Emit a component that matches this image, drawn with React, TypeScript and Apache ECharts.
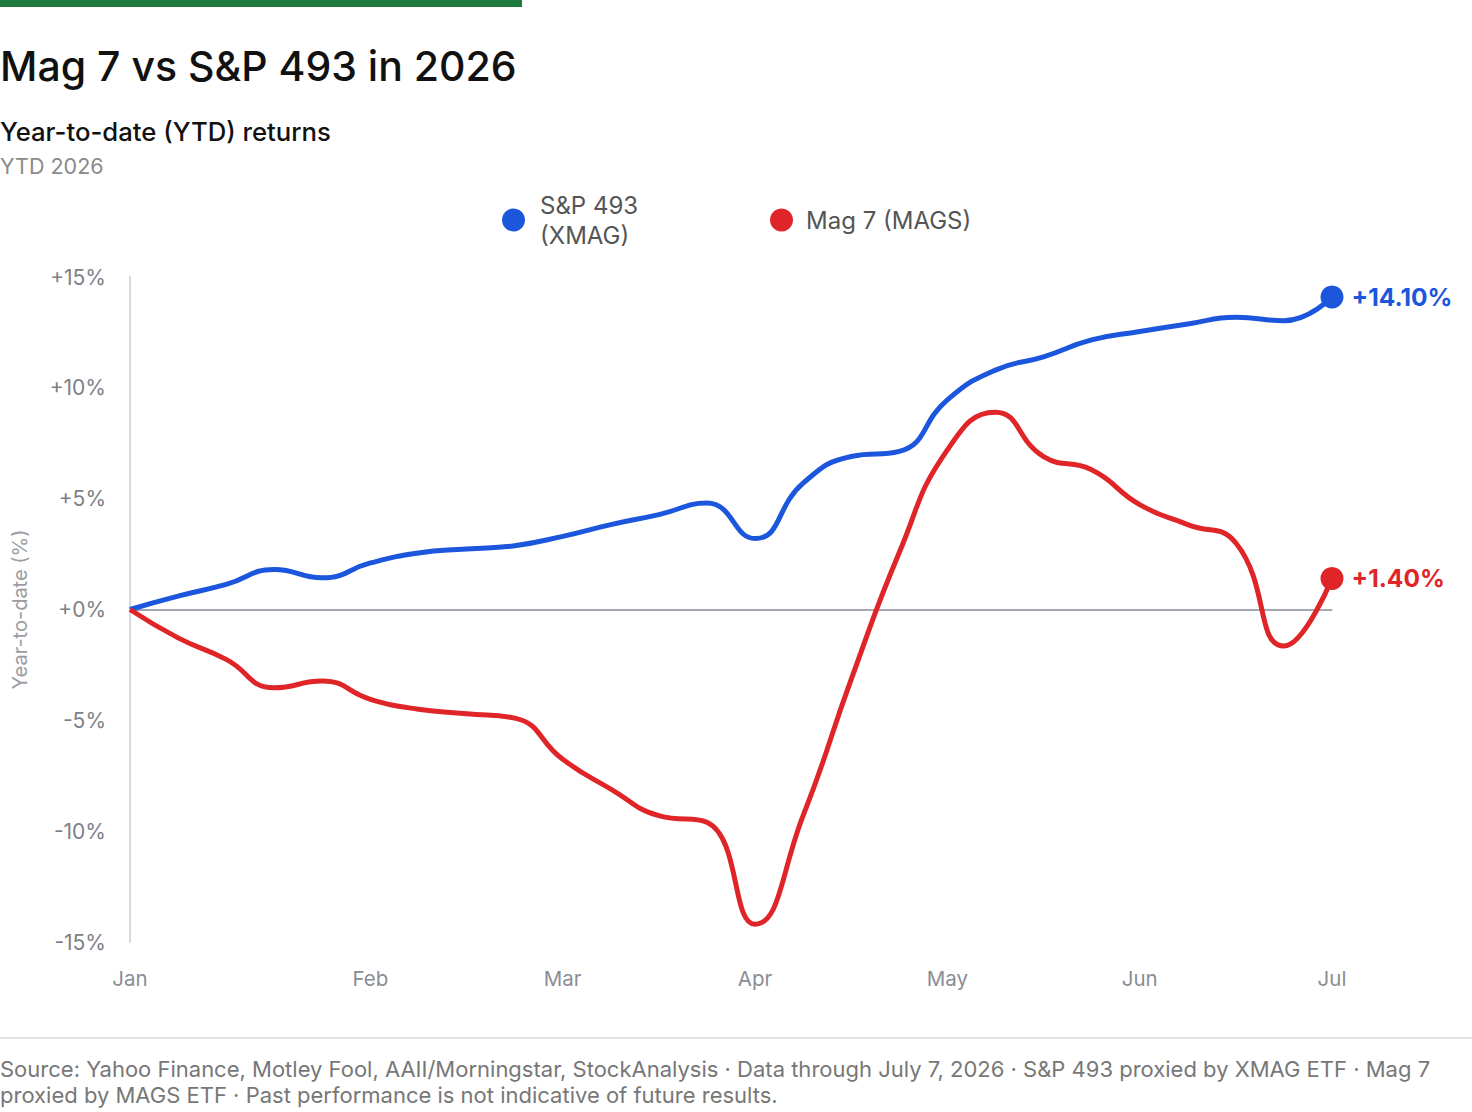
import { useEffect, useRef } from 'react';
import * as echarts from 'echarts';

// one point per week, Jan -> Jul 7
const weeks = [
  'W1', 'W2', 'W3', 'W4', 'W5', 'W6', 'W7', 'W8', 'W9', 'W10', 'W11', 'W12', 'W13',
  'W14', 'W15', 'W16', 'W17', 'W18', 'W19', 'W20', 'W21', 'W22', 'W23', 'W24', 'W25', 'W26',
];
// which week carries which month label
const monthTickIndex = [0, 5, 9, 13, 17, 21, 25];
const monthTickLabel = ['Jan', 'Feb', 'Mar', 'Apr', 'May', 'Jun', 'Jul'];

const xmag = [
  0, 0.6, 1.13, 1.8, 1.43, 2.1, 2.55, 2.73, 2.88, 3.3, 3.83, 4.28, 4.8,
  3.2, 5.7, 6.9, 7.13, 9.46, 10.8, 11.4, 12.16, 12.54, 12.88, 13.18, 13.03, 14.1,
];
const mags = [
  0, -1.28, -2.25, -3.53, -3.23, -4.05, -4.5, -4.7, -4.9, -6.76, -8.1, -9.3, -9.6,
  -14.2, -9.3, -3.15, 2.57, 7.2, 8.9, 6.9, 6.3, 4.73, 3.83, 3.0, -1.65, 1.4,
];

const BLUE = '#1c56dc';
const RED = '#e02528';
const FONT = 'Inter, "Noto Sans", sans-serif';

function withEndPoint(values: number[], color: string) {
  return values.map((v, i) =>
    i === values.length - 1
      ? {
          value: v,
          symbol: 'circle',
          symbolSize: 23,
          itemStyle: { color, borderWidth: 0 },
          label: {
            show: true,
            position: 'right',
            distance: 8,
            formatter: () => (v >= 0 ? '+' : '') + v.toFixed(2) + '%',
            color,
            fontFamily: FONT,
            fontSize: 24.5,
            fontWeight: 'bold',
          },
        }
      : v
  );
}

export default function App() {
  const chartRef = useRef<HTMLDivElement>(null);

  useEffect(() => {
    if (!chartRef.current) return;
    const chart = echarts.init(chartRef.current, null, { renderer: 'svg' });

    const legendText = { fontSize: 24, color: '#555555', lineHeight: 30, fontFamily: FONT };

    chart.setOption({
      animation: false,
      backgroundColor: '#ffffff',
      textStyle: { fontFamily: FONT },
      title: [
        {
          text: 'Mag 7 vs S&P 493 in 2026',
          left: 0,
          top: 45,
          padding: 0,
          textStyle: { fontSize: 41, fontWeight: 500, color: '#111111', fontFamily: FONT },
        },
        {
          text: 'Year-to-date (YTD) returns',
          left: 0,
          top: 118,
          padding: 0,
          textStyle: { fontSize: 25.7, fontWeight: 500, color: '#111111', fontFamily: FONT },
        },
        {
          text: 'YTD 2026',
          left: 0,
          top: 155,
          padding: 0,
          textStyle: { fontSize: 21.5, fontWeight: 400, color: '#8a8a8a', fontFamily: FONT },
        },
      ],
      legend: [
        {
          data: ['S&P 493 (XMAG)'],
          formatter: (name: string) => name.replace(' (', '\n('),
          left: 502,
          top: 190,
          padding: 0,
          icon: 'circle',
          itemWidth: 23,
          itemHeight: 23,
          textStyle: { ...legendText, padding: [0, 0, 0, 10] },
        },
        {
          data: ['Mag 7 (MAGS)'],
          left: 770,
          top: 205,
          padding: 0,
          icon: 'circle',
          itemWidth: 23,
          itemHeight: 23,
          textStyle: { ...legendText, padding: [0, 0, 0, 8] },
        },
      ],
      grid: {
        left: 130,
        right: 140,
        top: 277,
        bottom: 170,
        containLabel: false,
        outerBoundsMode: 'none',
      },
      xAxis: {
        type: 'category',
        data: weeks,
        boundaryGap: false,
        axisLine: { lineStyle: { color: '#d6d9e0', width: 2 } },
        axisTick: { show: false },
        axisLabel: {
          interval: (idx: number) => monthTickIndex.includes(idx),
          formatter: (_v: string, idx: number) => monthTickLabel[monthTickIndex.indexOf(idx)] ?? '',
          color: '#8a8d94',
          fontSize: 20.5,
          margin: 26,
        },
        splitLine: { show: false },
      },
      yAxis: {
        type: 'value',
        min: -15,
        max: 15,
        interval: 5,
        name: 'Year-to-date (%)',
        nameLocation: 'middle',
        nameGap: 100,
        nameRotate: 90,
        nameTextStyle: { color: '#9a9da3', fontSize: 20 },
        axisLine: { show: true, lineStyle: { color: '#d6d9e0', width: 2 } },
        axisTick: { show: false },
        splitLine: { show: false },
        axisLabel: {
          formatter: (v: number) => (v >= 0 ? '+' : '') + v + '%',
          color: '#7d8087',
          fontSize: 21,
          margin: 24,
        },
      },
      series: [
        {
          name: 'S&P 493 (XMAG)',
          type: 'line',
          data: withEndPoint(xmag, BLUE),
          smooth: true,
          symbol: 'none',
          showSymbol: true,
          color: BLUE,
          lineStyle: { width: 5, color: BLUE },
          z: 3,
          markLine: {
            silent: true,
            symbol: 'none',
            label: { show: false },
            lineStyle: { color: '#a3a8b2', width: 2, type: 'solid' },
            data: [{ yAxis: 0 }],
            z: 1,
          },
        },
        {
          name: 'Mag 7 (MAGS)',
          type: 'line',
          data: withEndPoint(mags, RED),
          smooth: true,
          symbol: 'none',
          showSymbol: true,
          color: RED,
          lineStyle: { width: 5, color: RED },
          z: 3,
        },
      ],
      graphic: [
        {
          type: 'rect',
          left: 0,
          top: 0,
          shape: { width: 522, height: 7 },
          style: { fill: '#1d7a3c' },
        },
        {
          type: 'line',
          shape: { x1: 0, y1: 1038, x2: 1472, y2: 1038 },
          style: { stroke: '#e3e3e3', lineWidth: 2 },
        },
        {
          type: 'text',
          left: 0,
          top: 1056,
          style: {
            text:
              'Source: Yahoo Finance, Motley Fool, AAII/Morningstar, StockAnalysis · Data through July 7, 2026 · S&P 493 proxied by XMAG ETF · Mag 7\nproxied by MAGS ETF · Past performance is not indicative of future results.',
            fill: '#777777',
            fontSize: 22,
            lineHeight: 26,
            fontFamily: FONT,
          },
        },
      ],
    });

    return () => chart.dispose();
  }, []);

  return (
    <div
      ref={chartRef}
      style={{ position: 'absolute', left: 0, top: 0, width: 1472, height: 1112 }}
    />
  );
}
